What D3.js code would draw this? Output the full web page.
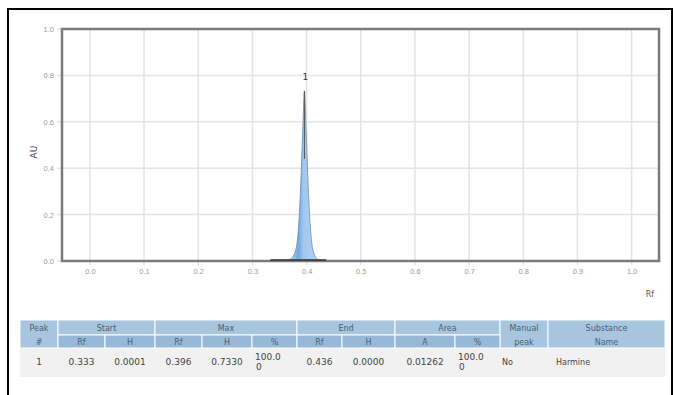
<!DOCTYPE html>
<html><head><meta charset="utf-8">
<script src="https://cdn.jsdelivr.net/npm/d3@7"></script>
<style>
html,body{margin:0;padding:0;background:#fff;}
svg{display:block;font-family:"DejaVu Sans",Verdana,sans-serif;}
</style></head><body>
<svg id="c" width="674" height="395"></svg>
<script>
// ---- data ----
const xTicks = [0.0,0.1,0.2,0.3,0.4,0.5,0.6,0.7,0.8,0.9,1.0];
const yTicks = [0.0,0.2,0.4,0.6,0.8,1.0];
const peakRf = [0.333,0.350,0.365,0.372,0.378,0.383,0.387,0.390,0.393,0.396,0.399,0.402,0.405,0.409,0.414,0.420,0.428,0.436];
const peakAU = [0.0001,0.0008,0.004,0.012,0.035,0.090,0.220,0.380,0.570,0.733,0.570,0.380,0.220,0.090,0.030,0.008,0.002,0.0000];
const peakLabels = ["1"];
const peakMaxRf = [0.396];
const peakMaxH = [0.733];
const headRow1 = [["Peak",1],["Start",2],["Max",3],["End",2],["Area",2],["Manual",1],["Substance",1]];
const headRow2 = ["#","Rf","H","Rf","H","%","Rf","H","A","%","peak","Name"];
const dataRow = ["1","0.333","0.0001","0.396","0.7330","100.0\n0","0.436","0.0000","0.01262","100.0\n0","No","Harmine"];
const colEdges = [20,58,105,155,202,252,297,342,395,455,500,548,665];

const svg = d3.select("#c");
// outer frame
svg.append("rect").attr("x",8).attr("y",9).attr("width",664).attr("height",400)
  .attr("fill","none").attr("stroke","#000").attr("stroke-width",2);

const L=62,T=29,R=659,B=261;
const x = d3.scaleLinear().domain([-0.0515,1.0505]).range([L,R]);
const y = d3.scaleLinear().domain([0,1]).range([B,T]);

// grid
svg.append("g").selectAll("line").data(xTicks).join("line")
  .attr("x1",d=>x(d)).attr("x2",d=>x(d)).attr("y1",T).attr("y2",B+4)
  .attr("stroke","#e4e4e4").attr("stroke-width",1.5);
svg.append("g").selectAll("line").data(yTicks).join("line")
  .attr("x1",L-5).attr("x2",R).attr("y1",d=>y(d)).attr("y2",d=>y(d))
  .attr("stroke","#e4e4e4").attr("stroke-width",1.5);

// axes labels via d3 axes
const xa = svg.append("g").attr("transform",`translate(0,${B})`)
  .call(d3.axisBottom(x).tickValues(xTicks).tickFormat(d3.format(".1f")).tickSize(0).tickPadding(8));
xa.select(".domain").remove();
xa.selectAll("text").attr("fill","#9a9a9a").attr("font-size",7.5);
const ya = svg.append("g").attr("transform",`translate(${L},0)`)
  .call(d3.axisLeft(y).tickValues(yTicks).tickFormat(d3.format(".1f")).tickSize(0).tickPadding(8));
ya.select(".domain").remove();
ya.selectAll("text").attr("fill","#9a9a9a").attr("font-size",7.5);

svg.append("text").attr("transform","translate(37,152) rotate(-90)").attr("text-anchor","middle")
  .attr("font-size",9).attr("fill","#444").text("AU");
svg.append("text").attr("x",650).attr("y",297).attr("text-anchor","middle")
  .attr("font-size",8).attr("fill","#555").text("Rf");

// peak
const pts = peakRf.map((r,i)=>[r,peakAU[i]]);
const defs = svg.append("defs");
const g = defs.append("linearGradient").attr("id","pg").attr("x1","0").attr("x2","1").attr("y1","0").attr("y2","0");
g.append("stop").attr("offset","0%").attr("stop-color","#bcd8f4");
g.append("stop").attr("offset","40%").attr("stop-color","#a2c8ee");
g.append("stop").attr("offset","50%").attr("stop-color","#72a8df");
g.append("stop").attr("offset","60%").attr("stop-color","#a2c8ee");
g.append("stop").attr("offset","100%").attr("stop-color","#bcd8f4");
svg.append("path").datum(pts)
  .attr("d",d3.area().x(d=>x(d[0])).y0(B).y1(d=>y(d[1])).curve(d3.curveMonotoneX))
  .attr("fill","url(#pg)");
svg.append("path").datum(pts)
  .attr("d",d3.line().x(d=>x(d[0])).y(d=>y(d[1])).curve(d3.curveMonotoneX))
  .attr("fill","none").attr("stroke","#6a8cb3").attr("stroke-width",0.8);

// plot frame
svg.append("rect").attr("x",L).attr("y",T).attr("width",R-L).attr("height",B-T)
  .attr("fill","none").attr("stroke","#7a7a7a").attr("stroke-width",2.5);
// baseline under peak
svg.append("line").attr("x1",x(peakRf[0])).attr("x2",x(peakRf[peakRf.length-1]))
  .attr("y1",B-1).attr("y2",B-1).attr("stroke","#333").attr("stroke-width",1.5);
// peak center line
svg.append("line").attr("x1",x(peakMaxRf[0])).attr("x2",x(peakMaxRf[0]))
  .attr("y1",y(peakMaxH[0])).attr("y2",y(peakMaxH[0]*0.6)).attr("stroke","#555").attr("stroke-width",1);
svg.append("text").attr("x",x(peakMaxRf[0])+1).attr("y",y(peakMaxH[0])-11).attr("text-anchor","middle")
  .attr("font-size",9).attr("fill","#333").text(peakLabels[0]);

// table
const t = svg.append("g").attr("font-size",8);
const r1y=320,r1h=15,r2y=335,r2h=13,r3y=348,r3h=29;
t.append("rect").attr("x",colEdges[0]).attr("y",r3y).attr("width",colEdges[12]-colEdges[0]).attr("height",r3h).attr("fill","#f1f1f1");
let ci=0;
headRow1.forEach(([txt,span],k)=>{
  const x0=colEdges[ci], x1=colEdges[ci+span];
  const full = (k===0||k>=5);
  t.append("rect").attr("x",x0).attr("y",r1y).attr("width",x1-x0).attr("height",full?r1h+r2h:r1h)
    .attr("fill","#a7c5df").attr("stroke","#fff").attr("stroke-width",1);
  t.append("text").attr("x",(x0+x1)/2).attr("y",r1y+11).attr("text-anchor","middle").attr("fill","#4d5f70").text(txt);
  ci+=span;
});
headRow2.forEach((txt,i)=>{
  const x0=colEdges[i], x1=colEdges[i+1];
  if(i===0||i>=10){
    t.append("text").attr("x",(x0+x1)/2).attr("y",r2y+10).attr("text-anchor","middle").attr("fill","#4d5f70").text(txt);
    return;
  }
  t.append("rect").attr("x",x0).attr("y",r2y).attr("width",x1-x0).attr("height",r2h)
    .attr("fill","#97b9d7").attr("stroke","#fff").attr("stroke-width",1);
  t.append("text").attr("x",(x0+x1)/2).attr("y",r2y+10).attr("text-anchor","middle").attr("fill","#4d5f70").text(txt);
});
dataRow.forEach((txt,i)=>{
  const x0=colEdges[i], x1=colEdges[i+1];
  const lines = txt.split("\n");
  const anchor = (i>=10)?"start":"middle";
  const xx = (i>=10)? x0+(i===10?2:8) : (x0+x1)/2;
  lines.forEach((ln,j)=>{
    const yy = lines.length>1 ? r3y+12+j*10 : r3y+17;
    t.append("text").attr("x", lines.length>1 && j===1 ? x0+4 : (lines.length>1? x0+3: xx))
      .attr("y",yy).attr("text-anchor", lines.length>1?"start":anchor)
      .attr("fill","#444").attr("font-size",i>=10?8:9).text(ln);
  });
});
</script>
</body></html>
